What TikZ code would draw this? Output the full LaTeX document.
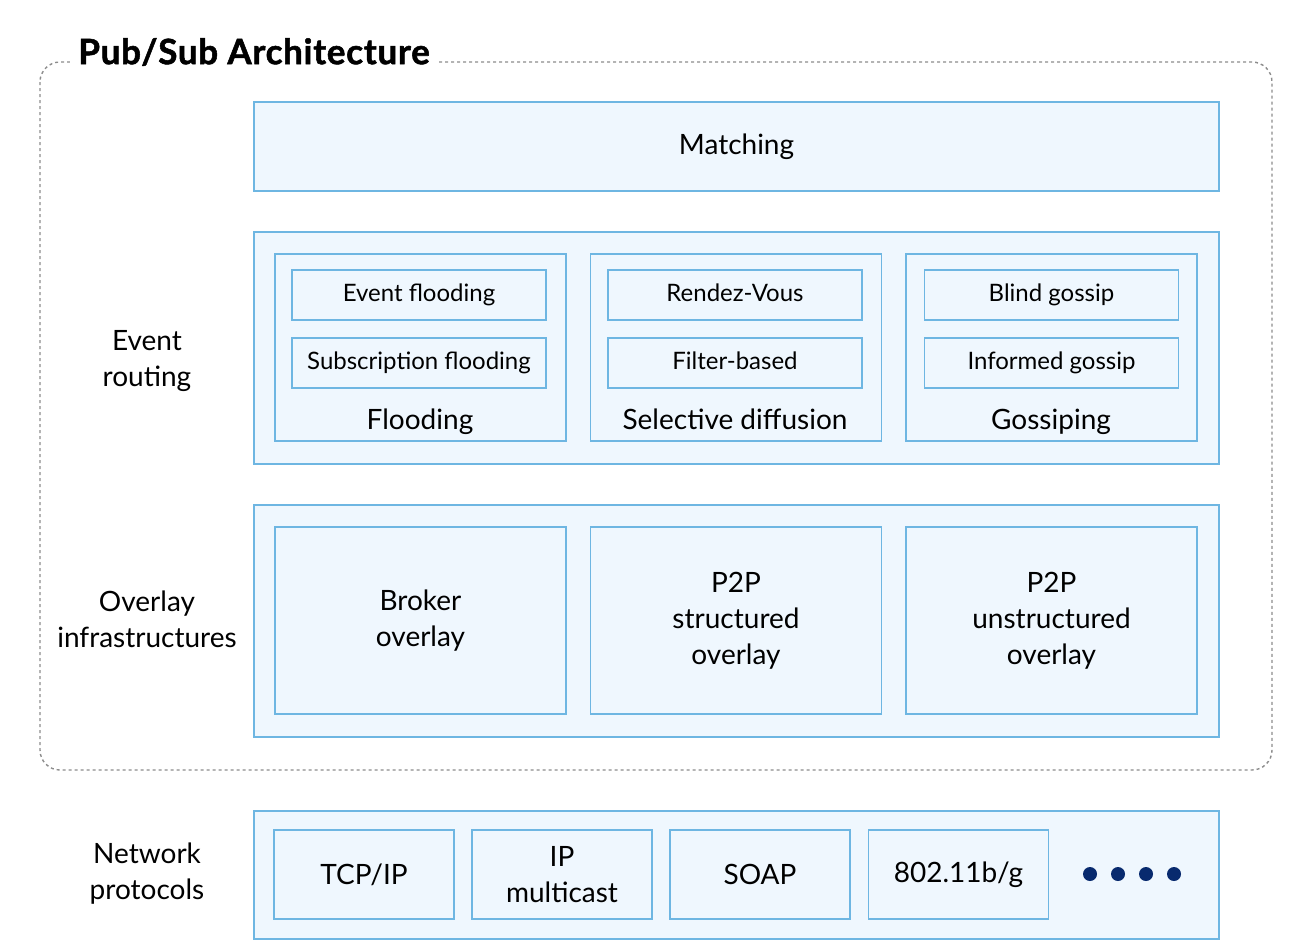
\documentclass[tikz,border=0pt]{standalone}
\usepackage{fontspec}
\setmainfont{Lato}
\newfontfamily\titlefont[BoldFeatures={FakeBold=1.5}, LetterSpace=2]{Lato}
\definecolor{bxline}{RGB}{110,182,226}
\definecolor{bxfill}{RGB}{239,247,254}
\definecolor{dotnavy}{RGB}{8,42,110}
\definecolor{framegray}{RGB}{140,140,140}
\tikzset{
  outerbox/.style={draw=bxline, fill=bxfill, line width=1pt, inner sep=0pt},
  innerbox/.style={draw=bxline, fill=bxfill, line width=0.8pt, inner sep=0pt, align=center, font=\fontsize{14}{18}\selectfont},
  subbox/.style={draw=bxline, fill=bxfill, line width=0.8pt, inner sep=0pt, minimum width=127pt, minimum height=25pt, text height=9pt, text depth=2.5pt, font=\fontsize{12}{14}\selectfont},
  lbl/.style={align=center, font=\fontsize{14}{18}\selectfont, inner sep=0pt},
  blbl/.style={inner sep=0pt, text height=10.5pt, text depth=3pt, font=\fontsize{14}{18}\selectfont},
  bigdot/.style={circle, fill=dotnavy, inner sep=0pt, minimum size=7pt},
}
\begin{document}
\begin{tikzpicture}[x=0.5pt,y=-0.5pt]
\useasboundingbox (0,0) rectangle (1300,950);
% frame
\draw[framegray, line width=0.7pt, dash pattern=on 1.5pt off 1.5pt, rounded corners=10pt] (40,62) rectangle (1272,770);
\node[fill=white, anchor=west, inner xsep=4pt, inner ysep=2pt, font=\fontsize{17.5}{20}\titlefont\bfseries] (title) at (70,52) {Pub/Sub Architecture};
% Matching
\node[outerbox, minimum width=482.5pt, minimum height=44.5pt, font=\fontsize{14}{18}\selectfont] (matching) at (736.5,146.5) {Matching};
% Event routing
\node[outerbox, minimum width=482.5pt, minimum height=116pt] (erouter) at (736.5,348) {};
\node[innerbox, minimum width=145.5pt, minimum height=93.5pt] (flood) at (420.5,347.5) {};
\node[innerbox, minimum width=145.5pt, minimum height=93.5pt] (selec) at (736,347.5) {};
\node[innerbox, minimum width=145.5pt, minimum height=93.5pt] (gossip) at (1051.5,347.5) {};
\node[subbox] (evflood) at (419,295) {Event flooding};
\node[subbox] (subflood) at (419,363) {Subscription flooding};
\node[subbox] (rendez) at (735,295) {Rendez-Vous};
\node[subbox] (filter) at (735,363) {Filter-based};
\node[subbox] (blind) at (1051.5,295) {Blind gossip};
\node[subbox] (informed) at (1051.5,363) {Informed gossip};
\node[blbl] (floodlbl) at (420,422) {Flooding};
\node[blbl] (selecl) at (735,422) {Selective diffusion};
\node[blbl] (gossipl) at (1051,422) {Gossiping};
% Overlay
\node[outerbox, minimum width=482.5pt, minimum height=116pt] (ovouter) at (736.5,621) {};
\node[innerbox, minimum width=145.5pt, minimum height=93.5pt] (broker) at (420.5,620.5) {Broker\\overlay};
\node[innerbox, minimum width=145.5pt, minimum height=93.5pt] (p2ps) at (736,620.5) {P2P\\structured\\overlay};
\node[innerbox, minimum width=145.5pt, minimum height=93.5pt] (p2pu) at (1051.5,620.5) {P2P\\unstructured\\overlay};
% Network
\node[outerbox, minimum width=482.5pt, minimum height=64pt] (netouter) at (736.5,875) {};
\node[innerbox, minimum width=90pt, minimum height=44.5pt] (tcp) at (364,874.5) {TCP/IP};
\node[innerbox, minimum width=90pt, minimum height=44.5pt] (ipm) at (562,874.5) {IP\\multicast};
\node[innerbox, minimum width=90pt, minimum height=44.5pt] (soap) at (760,874.5) {SOAP};
\node[innerbox, minimum width=90pt, minimum height=44.5pt, text height=10.5pt, text depth=3pt] (wifi) at (958.5,874.5) {802.11b/g};
\node[bigdot] (d1) at (1090,874) {};
\node[bigdot] (d2) at (1118,874) {};
\node[bigdot] (d3) at (1146,874) {};
\node[bigdot] (d4) at (1174,874) {};
% left labels
\node[lbl] (lab1) at (147,361) {Event\\routing};
\node[lbl] (lab2) at (147,619) {Overlay\\infrastructures};
\node[lbl] (lab3) at (147,874) {Network\\protocols};
\end{tikzpicture}
\end{document}
